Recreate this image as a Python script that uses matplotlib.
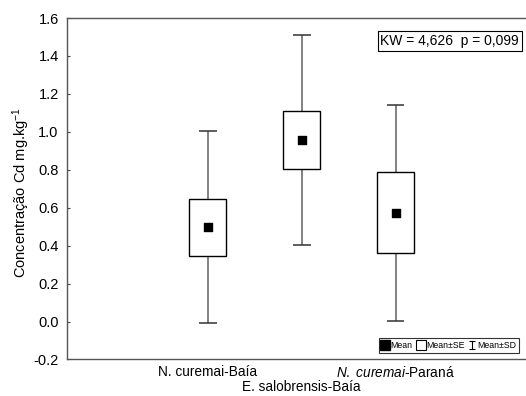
import numpy as np
import matplotlib
matplotlib.use("Agg")
import matplotlib.pyplot as plt
import matplotlib.transforms as mtransforms
from matplotlib.lines import Line2D

plt.rcParams['font.family'] = ['Liberation Sans', 'DejaVu Sans']
plt.rcParams['mathtext.fontset'] = 'custom'
plt.rcParams['mathtext.rm'] = 'Liberation Sans'
plt.rcParams['mathtext.it'] = 'Liberation Sans:italic'

# Concentração de Cd por grupo: média, erro padrão e desvio padrão
grupos = ['N. curemai-Baía', 'E. salobrensis-Baía', r'$\mathit{N.\ curemai}$-Paraná']
medias = [0.497, 0.957, 0.574]
erro_padrao = [0.150, 0.151, 0.213]
desvio_padrao = [0.505, 0.551, 0.570]

kw_texto = 'KW = 4,626  p = 0,099'

pos = np.arange(1, len(grupos) + 1)
media = np.array(medias)
se = np.array(erro_padrao)
sd = np.array(desvio_padrao)

fig = plt.figure(figsize=(5.26, 3.96), dpi=100)
ax = fig.add_axes([0.1274, 0.0922, 0.8726, 0.8623])

cor_bigode = '#777777'
larg_caixa = 0.394
larg_cap = 0.19

# bigodes (média ± DP)
ax.vlines(pos, media + se, media + sd, color=cor_bigode, lw=1.3, zorder=1)
ax.vlines(pos, media - sd, media - se, color=cor_bigode, lw=1.3, zorder=1)
ax.hlines(media + sd, pos - larg_cap / 2, pos + larg_cap / 2, color='#333333', lw=1.1, zorder=1)
ax.hlines(media - sd, pos - larg_cap / 2, pos + larg_cap / 2, color='#333333', lw=1.1, zorder=1)

# caixas (média ± EP)
ax.bar(pos, 2 * se, bottom=media - se, width=larg_caixa, color='white',
       edgecolor='black', linewidth=1.0, zorder=2)

# médias
ax.scatter(pos, media, marker='s', s=40, color='black', zorder=3)

ax.set_xlim(-0.5, 4.39)
ax.set_ylim(-0.2, 1.6)
yt = np.arange(-0.2, 1.61, 0.2)
ax.set_yticks(yt)
ax.set_yticklabels([f'{v:.1f}' for v in yt], fontsize=10.5)
ax.tick_params(axis='y', direction='in', length=2, width=0.8, color='#444444', pad=6)

# rótulos do eixo x em duas linhas alternadas
ax.set_xticks(pos)
ax.set_xticklabels([grupos[0], '', grupos[2]], fontsize=9.8)
ax.tick_params(axis='x', length=0, pad=4)
desloc = mtransforms.offset_copy(ax.get_xaxis_transform(), fig=fig, x=0, y=-21, units='dots')
ax.text(pos[1], 0, grupos[1], transform=desloc, ha='center', va='top', fontsize=9.8)

ax.set_ylabel('Concentração Cd mg.kg$^{\\mathregular{-1}}$', fontsize=10.5)
ax.yaxis.set_label_coords(-0.076, 0.49)

for lado in ['left', 'top', 'bottom']:
    ax.spines[lado].set_color('#555555')
    ax.spines[lado].set_linewidth(1.0)
ax.spines['right'].set_visible(False)

# caixa com o teste de Kruskal-Wallis
ax.text(0.985, 0.933, kw_texto, transform=ax.transAxes, ha='right', va='center',
        fontsize=10, bbox=dict(boxstyle='square,pad=0.2', fc='white', ec='black', lw=0.8))

# legenda: média, caixa (EP) e barra com travessões (DP)
barra_dp = ax.errorbar([np.nan], [np.nan], yerr=[np.nan], fmt='none', ecolor='black',
                       elinewidth=0.8, capsize=2.5, capthick=0.8)
alcas = [
    Line2D([], [], marker='s', ls='none', color='black', markersize=7),
    Line2D([], [], marker='s', ls='none', mfc='white', mec='black', mew=0.8, markersize=7),
    barra_dp,
]
leg = ax.legend(alcas, ['Mean', 'Mean±SE', 'Mean±SD'], loc='lower right',
                bbox_to_anchor=(0.985, 0.02), ncol=3, fontsize=6.3, frameon=True,
                fancybox=False, edgecolor='black', handlelength=0.8, handletextpad=0.2,
                columnspacing=0.5, borderpad=0.3, borderaxespad=0)
leg.get_frame().set_linewidth(0.8)

fig.savefig('out.png', dpi=100)
